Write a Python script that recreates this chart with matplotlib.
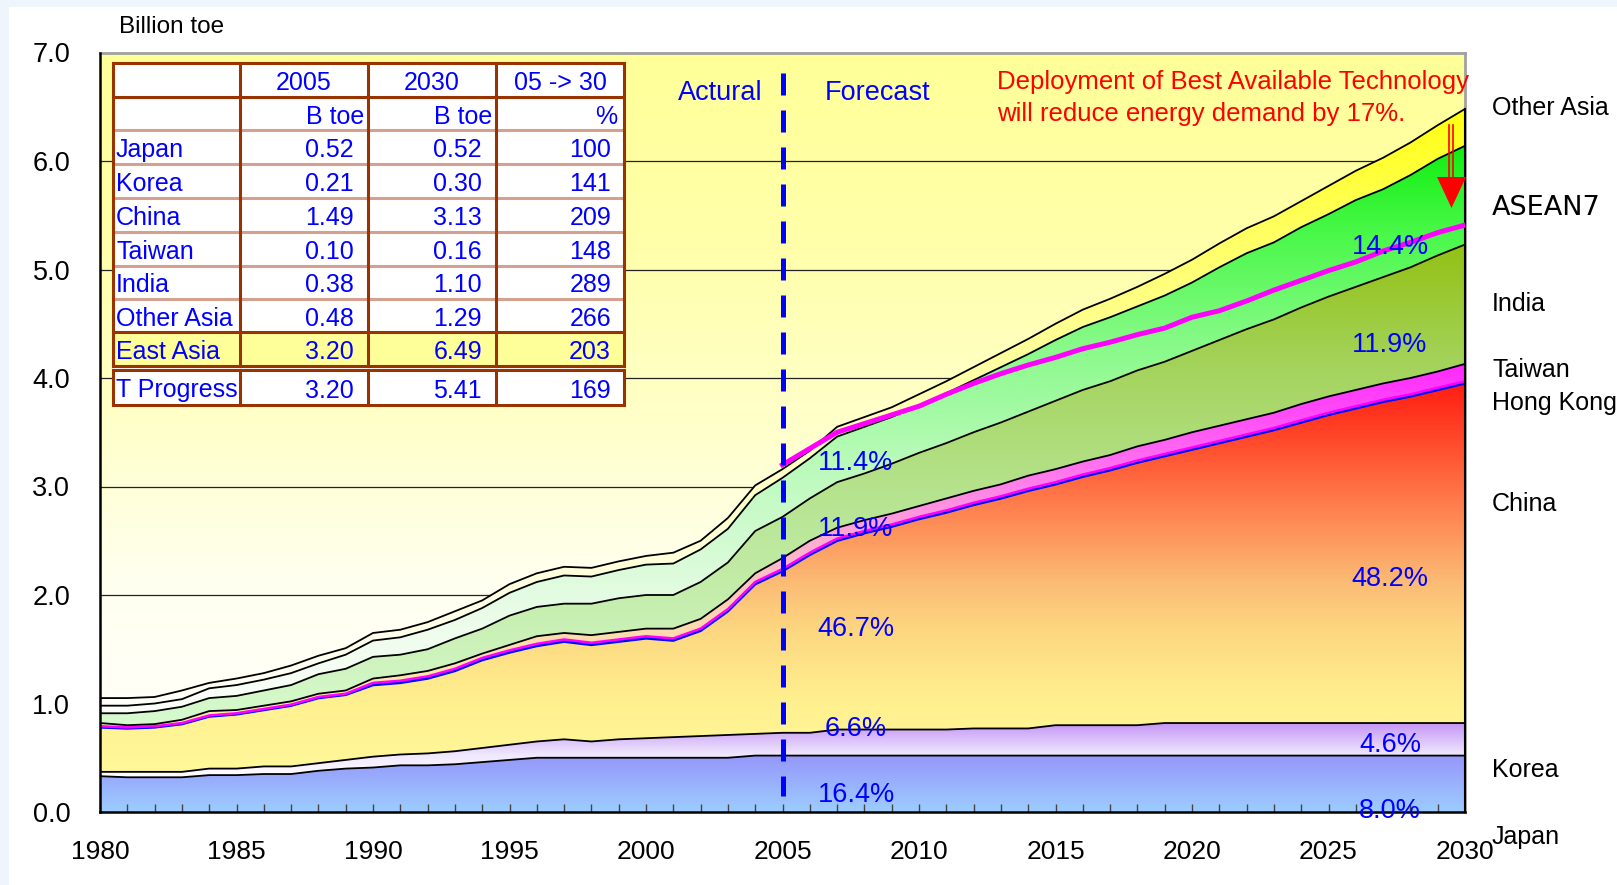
import numpy as np
import matplotlib.pyplot as plt
from matplotlib.colors import LinearSegmentedColormap
from matplotlib.path import Path
from matplotlib.patches import Rectangle, Polygon

plt.rcParams['font.family'] = ['Liberation Sans', 'DejaVu Sans']

years = np.arange(1980, 2031)

# Billion toe, 1980 ... 2030 (actual to 2005, forecast after)
japan = [0.33, 0.32, 0.32, 0.32, 0.34, 0.34, 0.35, 0.35, 0.38, 0.40,
         0.41, 0.43, 0.43, 0.44, 0.46, 0.48, 0.50, 0.50, 0.50, 0.50,
         0.50, 0.50, 0.50, 0.50, 0.52, 0.52,
         0.52, 0.52, 0.52, 0.52, 0.52, 0.52, 0.52, 0.52, 0.52, 0.52,
         0.52, 0.52, 0.52, 0.52, 0.52, 0.52, 0.52, 0.52, 0.52, 0.52,
         0.52, 0.52, 0.52, 0.52, 0.52]
korea = [0.04, 0.05, 0.05, 0.05, 0.06, 0.06, 0.07, 0.07, 0.07, 0.08,
         0.10, 0.10, 0.11, 0.12, 0.13, 0.14, 0.15, 0.17, 0.15, 0.17,
         0.18, 0.19, 0.20, 0.21, 0.20, 0.21,
         0.21, 0.24, 0.24, 0.24, 0.24, 0.24, 0.25, 0.25, 0.25, 0.28,
         0.28, 0.28, 0.28, 0.30, 0.30, 0.30, 0.30, 0.30, 0.30, 0.30,
         0.30, 0.30, 0.30, 0.30, 0.30]
china = [0.41, 0.40, 0.41, 0.44, 0.48, 0.50, 0.52, 0.56, 0.60, 0.60,
         0.66, 0.66, 0.69, 0.74, 0.81, 0.85, 0.88, 0.90, 0.89, 0.90,
         0.92, 0.89, 0.97, 1.14, 1.38, 1.49,
         1.64, 1.74, 1.81, 1.87, 1.94, 2.00, 2.06, 2.12, 2.19, 2.22,
         2.29, 2.35, 2.42, 2.46, 2.52, 2.58, 2.64, 2.70, 2.77, 2.84,
         2.90, 2.96, 3.01, 3.07, 3.13]
hong_kong = [0.01, 0.01, 0.01, 0.01, 0.01, 0.01, 0.01, 0.01, 0.01, 0.01,
             0.02, 0.02, 0.02, 0.02, 0.02, 0.02, 0.02, 0.02, 0.02, 0.02,
             0.02, 0.02, 0.02, 0.02, 0.02, 0.02,
             0.02, 0.02, 0.02, 0.02, 0.02, 0.02, 0.02, 0.02, 0.02, 0.02,
             0.02, 0.02, 0.02, 0.02, 0.02, 0.02, 0.02, 0.02, 0.02, 0.02,
             0.02, 0.02, 0.02, 0.02, 0.02]
taiwan = [0.03, 0.02, 0.02, 0.03, 0.04, 0.03, 0.03, 0.03, 0.03, 0.03,
          0.04, 0.05, 0.05, 0.05, 0.04, 0.05, 0.07, 0.06, 0.07, 0.07,
          0.07, 0.09, 0.09, 0.09, 0.08, 0.10,
          0.11, 0.10, 0.10, 0.10, 0.10, 0.11, 0.11, 0.11, 0.12, 0.12,
          0.12, 0.12, 0.13, 0.13, 0.14, 0.14, 0.14, 0.14, 0.15, 0.15,
          0.15, 0.15, 0.15, 0.15, 0.16]
india = [0.09, 0.11, 0.12, 0.12, 0.12, 0.13, 0.14, 0.15, 0.18, 0.20,
         0.20, 0.19, 0.20, 0.23, 0.23, 0.27, 0.27, 0.27, 0.29, 0.31,
         0.31, 0.31, 0.34, 0.34, 0.39, 0.38,
         0.39, 0.42, 0.43, 0.46, 0.49, 0.51, 0.54, 0.57, 0.59, 0.63,
         0.66, 0.68, 0.70, 0.72, 0.75, 0.79, 0.83, 0.86, 0.89, 0.92,
         0.95, 0.98, 1.02, 1.07, 1.10]
asean7 = [0.07, 0.07, 0.07, 0.07, 0.09, 0.10, 0.10, 0.11, 0.10, 0.13,
          0.15, 0.16, 0.18, 0.17, 0.19, 0.21, 0.23, 0.26, 0.25, 0.26,
          0.28, 0.29, 0.30, 0.31, 0.33, 0.36,
          0.37, 0.42, 0.43, 0.43, 0.44, 0.46, 0.48, 0.51, 0.53, 0.56,
          0.58, 0.59, 0.59, 0.61, 0.63, 0.67, 0.70, 0.71, 0.74, 0.76,
          0.80, 0.81, 0.85, 0.89, 0.91]
other_asia = [0.07, 0.07, 0.06, 0.08, 0.05, 0.06, 0.06, 0.07, 0.07, 0.06,
              0.07, 0.07, 0.07, 0.08, 0.07, 0.08, 0.08, 0.08, 0.08, 0.08,
              0.08, 0.10, 0.08, 0.10, 0.09, 0.08,
              0.07, 0.09, 0.09, 0.09, 0.10, 0.11, 0.12, 0.13, 0.14, 0.15,
              0.16, 0.17, 0.18, 0.20, 0.21, 0.22, 0.23, 0.24, 0.24, 0.26,
              0.27, 0.29, 0.30, 0.31, 0.34]

# technological progress case, 2005 ... 2030
tp_years = np.arange(2005, 2031)
t_progress = [3.20, 3.35, 3.50, 3.58, 3.66, 3.74, 3.85, 3.95, 4.04, 4.12,
              4.19, 4.27, 4.33, 4.40, 4.46, 4.56, 4.62, 4.71, 4.81, 4.90,
              4.99, 5.07, 5.17, 5.25, 5.34, 5.41]

# table
tbl_names = ["Japan", "Korea", "China", "Taiwan", "India", "Other Asia",
             "East Asia", "T Progress"]
tbl_2005 = [0.52, 0.21, 1.49, 0.10, 0.38, 0.48, 3.20, 3.20]
tbl_2030 = [0.52, 0.30, 3.13, 0.16, 1.10, 1.29, 6.49, 5.41]
tbl_pct = [100, 141, 209, 148, 289, 266, 203, 169]

# share labels
share_2005 = ["16.4%", "6.6%", "46.7%", "11.9%", "11.4%"]
share_2030 = ["8.0%", "4.6%", "48.2%", "11.9%", "14.4%"]

right_labels = ["Other Asia", "ASEAN7", "India", "Taiwan", "Hong Kong",
                "China", "Korea", "Japan"]

# (name, values, gradient stops bottom->top, top edge colour)
layers = [
    ("Japan", japan, [(0, '#9ccdff'), (1, '#9696fa')], 'black'),
    ("Korea", korea, [(0, '#ffffff'), (0.4, '#f0e8fd'), (1, '#c494f6')], 'black'),
    ("China", china, [(0, '#fff89a'), (0.18, '#fff08f'), (0.37, '#fdd680'),
                      (0.49, '#fbbb74'), (0.7, '#ff7a4a'), (0.87, '#ff4428'),
                      (1, '#ff1e12')], '#0000ff'),
    ("Hong Kong", hong_kong, [(0, '#3030ff'), (1, '#3030ff')], '#ff00ff'),
    ("Taiwan", taiwan, [(0, '#fff3a8'), (0.3, '#fdd8b0'), (0.5, '#ffb0d0'),
                        (0.7, '#ff78ee'), (1, '#ff28ff')], 'black'),
    ("India", india, [(0, '#d8fad0'), (0.45, '#b8e594'), (0.75, '#a4d35c'),
                      (1, '#93c114')], 'black'),
    ("ASEAN7", asean7, [(0, '#fbfffa'), (0.15, '#eefcec'), (0.45, '#b8fab8'),
                        (0.65, '#88fa88'), (0.85, '#48f848'), (1, '#10ee10')], 'black'),
    ("Other Asia", other_asia, [(0, '#fffffa'), (0.5, '#ffffb8'), (0.8, '#ffff60'),
                                (1, '#ffff10')], 'black'),
]

W, H = 1617, 885
fig = plt.figure(figsize=(W / 100, H / 100), dpi=100)
fig.patch.set_facecolor('#eef5fc')
fig.add_artist(Rectangle((9 / W, 0), 1, 1 - 7 / H, transform=fig.transFigure,
                         facecolor='white', edgecolor='none', zorder=-5))

left, right, bottom, top = 100, 1465, 812, 52.5
ax = fig.add_axes([left / W, 1 - bottom / H, (right - left) / W, (bottom - top) / H])
ax.set_facecolor('none')

# plot area background gradient
bg = LinearSegmentedColormap.from_list('bg', [(0, '#ffffff'), (0.3, '#fffff0'),
                                              (0.5, '#ffffcc'), (0.75, '#ffffaa'),
                                              (1, '#ffff99')])
grad = np.linspace(0, 1, 256).reshape(-1, 1)
ax.imshow(grad, extent=[1980, 2030, 0, 7], origin='lower', aspect='auto',
          cmap=bg, zorder=0, interpolation='bicubic')
ax.hlines([1, 2, 3, 4, 5, 6], 1980, 2030, colors='#222222', lw=0.9, zorder=0.5)

base = np.zeros(len(years))
for i, (name, vals, stops, edge) in enumerate(layers):
    vals = np.asarray(vals)
    upper = base + vals
    cmap = LinearSegmentedColormap.from_list(name, stops)
    verts = list(zip(years, upper)) + list(zip(years[::-1], base[::-1]))
    path = Path(verts + [verts[0]], closed=True)
    im = ax.imshow(grad, extent=[1980, 2030, base.min(), upper.max()],
                   origin='lower', aspect='auto', cmap=cmap,
                   zorder=1 + i * 0.1, interpolation='bicubic')
    im.set_clip_path(path, transform=ax.transData)
    lw = 1.8 if edge != 'black' else 1.3
    ax.plot(years, upper, color=edge, lw=lw, zorder=3 + i * 0.1,
            solid_joinstyle='round')
    base = upper

# right edge of the stack
ax.plot([2030, 2030], [0, base[-1]], color='black', lw=1.5, zorder=4, clip_on=False)

ax.plot(tp_years, t_progress, color='#ff00ff', lw=3.6, zorder=5,
        solid_joinstyle='round')
ax.plot([2005, 2005], [6.81, 0.15], color='#0000ff', lw=3.6,
        linestyle=(0, (4.4, 3.0)), zorder=6)

ax.set_xlim(1980, 2030)
ax.set_ylim(0, 7)
ax.set_xticks(np.arange(1980, 2031, 5))
ax.set_xticks(np.arange(1980, 2031, 1), minor=True)
ax.set_yticks(np.arange(0, 7.1, 1))
ax.set_yticklabels([f"{v:.1f}" for v in np.arange(0, 7.1, 1)])
ax.tick_params(axis='x', which='both', direction='in', length=6, width=1,
               color='#444444', labelsize=19, pad=20.5)
ax.tick_params(axis='y', length=0, labelsize=19.5, pad=21.5)
for s in ['left', 'bottom']:
    ax.spines[s].set_color('black')
    ax.spines[s].set_linewidth(1.8)
    ax.spines[s].set_zorder(7)
for s in ['top', 'right']:
    ax.spines[s].set_color('#a0a0a0')
    ax.spines[s].set_linewidth(2)

# overlay in figure pixels for table and annotations
ov = fig.add_axes([0, 0, 1, 1], zorder=5)
ov.set_xlim(0, W)
ov.set_ylim(H, 0)
ov.axis('off')

ov.text(119, 33, "Billion toe", fontsize=17.5, ha='left', va='baseline')

# table
cx = [113, 240, 368, 496, 624]
ry = [63, 97, 130, 164, 198, 232, 266, 299, 332, 366]
tr = [370, 405]
dark = '#993300'
light = '#d4a090'
ov.add_patch(Rectangle((cx[0], ry[0]), cx[-1] - cx[0], tr[1] - ry[0],
                       facecolor='white', edgecolor='none', zorder=1))
ov.add_patch(Rectangle((cx[0], ry[8]), cx[-1] - cx[0], ry[9] - ry[8],
                       facecolor='#ffff99', edgecolor='none', zorder=1))
for y in ry[2:8]:
    ov.plot([cx[0], cx[-1]], [y, y], color=light, lw=2.2, zorder=2)
for y in [ry[0], ry[1], ry[8], ry[9], tr[0], tr[1]]:
    ov.plot([cx[0], cx[-1]], [y, y], color=dark, lw=2.2, zorder=3)
for x in cx:
    ov.plot([x, x], [ry[0], ry[9]], color=dark, lw=2.2, zorder=3)
    ov.plot([x, x], [tr[0], tr[1]], color=dark, lw=2.2, zorder=3)

tkw = dict(fontsize=18, color='#0000ff', va='baseline', zorder=4)
for x0, x1, s in [(cx[1], cx[2], "2005"), (cx[2], cx[3], "2030"), (cx[3], cx[4], "05 -> 30")]:
    ov.text((x0 + x1) / 2, 90, s, ha='center', **tkw)
ov.text(cx[2] - 4, 124, "B toe", ha='right', **tkw)
ov.text(cx[3] - 4, 124, "B toe", ha='right', **tkw)
ov.text(cx[4] - 7, 124, "%", ha='right', **tkw)
row_base = [157, 191, 225, 259, 292.5, 325.5, 359, 397.5]
for name, a, b, p, yb in zip(tbl_names, tbl_2005, tbl_2030, tbl_pct, row_base):
    ov.text(cx[0] + 3, yb, name, ha='left', **tkw)
    ov.text(cx[2] - 14, yb, f"{a:.2f}", ha='right', **tkw)
    ov.text(cx[3] - 14, yb, f"{b:.2f}", ha='right', **tkw)
    ov.text(cx[4] - 13, yb, f"{p}", ha='right', **tkw)

# actual / forecast
ov.text(763, 100, "Actural", fontsize=19.5, color='#0000ff', ha='right', va='baseline')
ov.text(825, 100, "Forecast", fontsize=19.5, color='#0000ff', ha='left', va='baseline')
ov.text(997, 89, "Deployment of Best Available Technology", fontsize=18.5,
        color='#ff0000', ha='left', va='baseline')
ov.text(997, 121, "will reduce energy demand by 17%.", fontsize=18.5,
        color='#ff0000', ha='left', va='baseline')

# red arrow
ov.plot([1448.5, 1448.5], [125, 180], color='#ff0000', lw=1.2)
ov.plot([1452.5, 1452.5], [125, 180], color='#ff0000', lw=1.2)
ov.add_patch(Polygon([(1437, 177), (1466, 177), (1451.5, 208)], closed=True,
                     facecolor='#ff0000', edgecolor='none'))

# share labels
pkw = dict(fontsize=19.5, color='#0000ff', ha='center', va='baseline')
for s, yc in zip(share_2005, [792, 726, 626, 526, 460]):
    ov.text(856, yc + 9.5, s, **pkw)
for s, yc in zip(share_2030, [809, 743, 576, 343, 244]):
    ov.text(1390, yc + 9.5, s, **pkw)

# series names on the right
for s, yc in zip(right_labels, [106, 206, 302, 368, 401, 502, 768, 835]):
    if s == "ASEAN7":
        ov.text(1492, yc + 9, s, fontsize=19.5, family='DejaVu Sans',
                ha='left', va='baseline')
    else:
        ov.text(1492, yc + 9, s, fontsize=18, ha='left', va='baseline')

fig.savefig('out.png', dpi=100)
